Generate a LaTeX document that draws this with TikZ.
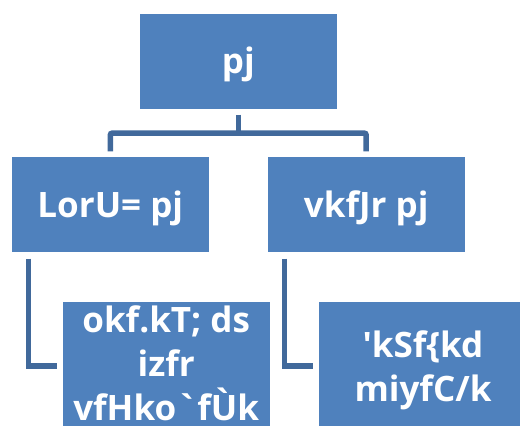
\documentclass[tikz,border=0pt]{standalone}
\usepackage{fontspec}
\newfontfamily\boxfont{Open Sans}[BoldFont={* Bold}]
\definecolor{boxblue}{HTML}{4F81BD}
\definecolor{linkblue}{HTML}{41699B}
% centred lines on a fixed baseline grid; the box's baseline is the last line's
\newcommand\linestack[1]{\vbox{\halign{\hfil##\hfil\cr#1\crcr}}}
\tikzset{
  orgbox/.style={draw=white, line width=0.6pt, fill=boxblue, text=white,
    inner sep=0pt, font=\boxfont\bfseries\fontsize{35}{44}\selectfont},
  headbox/.style={orgbox, minimum width=198pt, minimum height=96pt,
    text height=26pt, text depth=0pt},
  kidbox/.style={orgbox, minimum width=208pt, minimum height=130pt},
  kidtext/.style={text=white, inner sep=0pt, anchor=base,
    font=\boxfont\bfseries\fontsize{35}{44}\selectfont},
  link/.style={draw=linkblue, line width=5.5pt}
}
\begin{document}
\begin{tikzpicture}[x=1pt, y=-1pt]
  \useasboundingbox (0,0) rectangle (520,426);
  % boxes
  \node[headbox] (top)   at (238.3, 60.8)  {pj};
  \node[headbox] (left)  at (110.3, 204.7) {LorU= pj};
  \node[headbox] (right) at (366.2, 204.7) {vkfJr pj};
  \node[kidbox]  (lkid)  at (166.2, 366) {};
  \node[kidbox]  (rkid)  at (422.5, 366) {};
  \node[kidtext] (ltext) at ([yshift=-54pt]lkid.center)
    {\linestack{okf.kT; ds\cr izfr\cr vfHko`fÙk}};
  \node[kidtext] (rtext) at ([xshift=0.5pt, yshift=-35pt]rkid.center)
    {\linestack{'kSf\{kd\cr miyfC/k}};
  % bracket from the top box to its two children
  \coordinate (fork) at ([yshift=-24pt]top.south);
  \draw[link] ([yshift=-5.5pt]top.south) -- (fork);
  \draw[link, rounded corners=2pt]
    ([yshift=5pt]left.north) -- (left.north |- fork)
    -- (right.north |- fork) -- ([yshift=5pt]right.north);
  % elbows down to the child boxes
  \draw[link] ([xshift=17.5pt, yshift=-5.5pt]left.south west)
    |- ([xshift=-5pt]lkid.west);
  \draw[link] ([xshift=17.5pt, yshift=-5.5pt]right.south west)
    |- ([xshift=-5pt]rkid.west);
\end{tikzpicture}
\end{document}
